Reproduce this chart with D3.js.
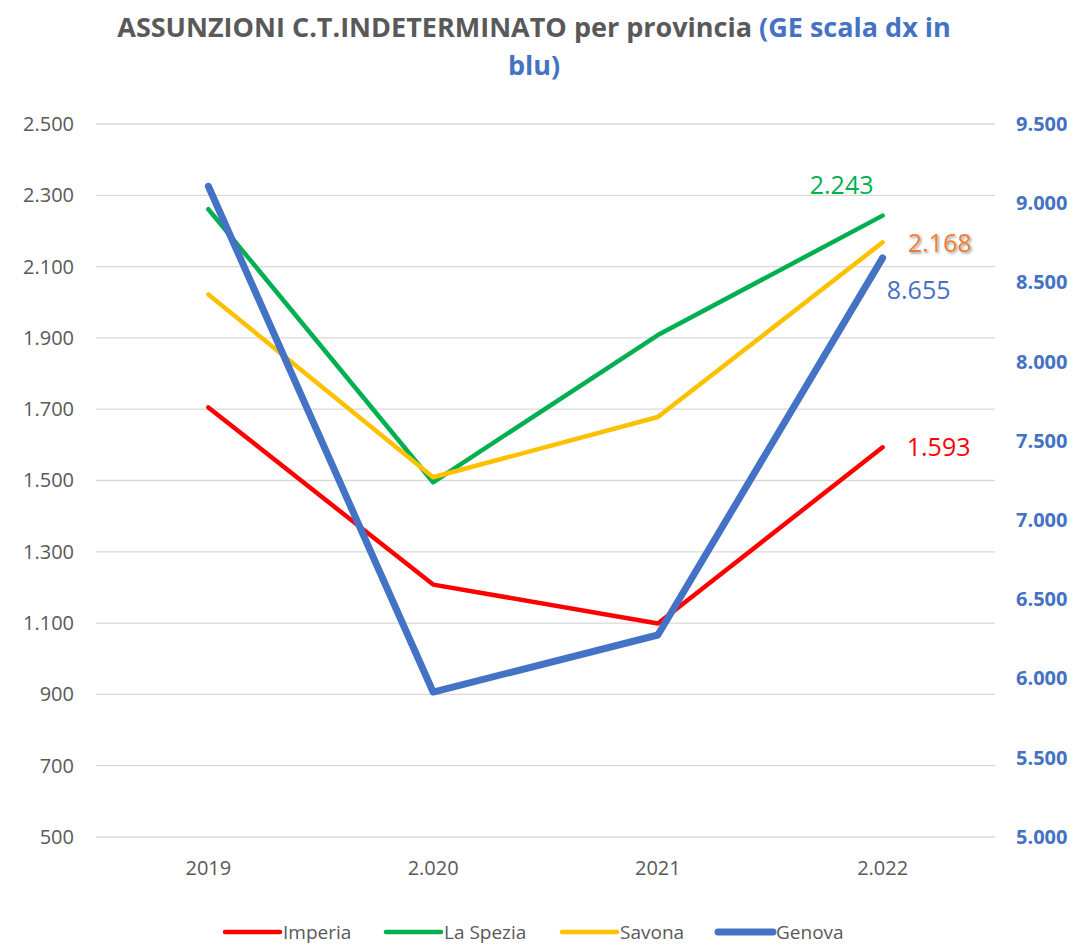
<!DOCTYPE html>
<html lang="it">
<head>
  <meta charset="UTF-8">
  <title>Assunzioni C.T.Indeterminato</title>
  <script src="https://d3js.org/d3.v7.min.js"></script>
  <style>
    body { margin: 0; background: #fff; }
    text { font-family: "Open Sans", sans-serif; }
    .tick-l { font-size: 20px; fill: #595959; }
    .tick-r { font-size: 20px; fill: #4472C4; font-weight: bold; }
    .grid { stroke: #D9D9D9; stroke-width: 1.3; }
  </style>
</head>
<body>
  <svg width="1076" height="945"></svg>

  <script>
    const years = ["2019", "2.020", "2021", "2.022"];
    const imperia = [1705, 1208, 1099, 1593];
    const laSpezia = [2261, 1495, 1908, 2243];
    const savona = [2022, 1509, 1678, 2168];
    const genova = [9107, 5915, 6275, 8655];
    const leftTicks = [500, 700, 900, 1100, 1300, 1500, 1700, 1900, 2100, 2300, 2500];
    const rightTicks = [5000, 5500, 6000, 6500, 7000, 7500, 8000, 8500, 9000, 9500];

    const svg = d3.select("svg");
    const plotL = 96, plotR = 995, plotT = 124, plotB = 837;

    const x = d3.scaleBand().domain(years).range([plotL, plotR]);
    const y = d3.scaleLinear().domain([500, 2500]).range([plotB, plotT]);
    const y2 = d3.scaleLinear().domain([5000, 9500]).range([plotB, plotT]);
    const fmt = v => d3.format(",")(v).replace(/,/g, ".");
    const cx = d => x(d) + x.bandwidth() / 2;

    // title
    const title = svg.append("text").attr("text-anchor", "middle")
      .attr("font-weight", "bold").attr("font-size", 27);
    const l1 = title.append("tspan").attr("x", 534).attr("y", 37);
    l1.append("tspan").attr("fill", "#595959").text("ASSUNZIONI C.T.INDETERMINATO per provincia ");
    l1.append("tspan").attr("fill", "#4472C4").text("(GE scala dx in");
    title.append("tspan").attr("x", 534).attr("y", 75).attr("fill", "#4472C4").text("blu)");

    // gridlines
    svg.append("g").selectAll("line").data(leftTicks).enter().append("line")
      .attr("class", "grid")
      .attr("x1", plotL).attr("x2", plotR)
      .attr("y1", d => y(d)).attr("y2", d => y(d));

    // left axis
    const axL = svg.append("g").attr("transform", `translate(${plotL},0)`)
      .call(d3.axisLeft(y).tickValues(leftTicks).tickFormat(fmt).tickSize(0).tickPadding(22));
    axL.select(".domain").remove();
    axL.selectAll("text").attr("class", "tick-l");

    // right axis
    const axR = svg.append("g").attr("transform", `translate(${plotR},0)`)
      .call(d3.axisRight(y2).tickValues(rightTicks).tickFormat(fmt).tickSize(0).tickPadding(21));
    axR.select(".domain").remove();
    axR.selectAll("text").attr("class", "tick-r");

    // x axis
    const axX = svg.append("g").attr("transform", `translate(0,${plotB})`)
      .call(d3.axisBottom(x).tickSize(0).tickPadding(24));
    axX.select(".domain").remove();
    axX.selectAll("text").attr("class", "tick-l");

    const series = [
      { name: "Imperia", values: imperia, color: "#FF0000", width: 4.5, scale: y },
      { name: "La Spezia", values: laSpezia, color: "#00B050", width: 4.5, scale: y },
      { name: "Savona", values: savona, color: "#FFC000", width: 4.5, scale: y },
      { name: "Genova", values: genova, color: "#4472C4", width: 7, scale: y2 }
    ];

    series.forEach(s => {
      const line = d3.line().x((d, i) => cx(years[i])).y(d => s.scale(d));
      svg.append("path").datum(s.values)
        .attr("fill", "none").attr("stroke", s.color)
        .attr("stroke-width", s.width)
        .attr("stroke-linecap", "round").attr("stroke-linejoin", "round")
        .attr("d", line);
    });

    // data labels on last point
    const defs = svg.append("defs");
    const f = defs.append("filter").attr("id", "shadow");
    f.append("feDropShadow").attr("dx", 1.5).attr("dy", 1.5).attr("stdDeviation", 1)
      .attr("flood-color", "#000").attr("flood-opacity", 0.4);

    const last = years[3];
    const labels = [
      { v: imperia[3], sc: y, dx: 56, dy: 9, color: "#FF0000" },
      { v: laSpezia[3], sc: y, dx: -41, dy: -22, color: "#00B050" },
      { v: savona[3], sc: y, dx: 57, dy: 10, color: "#ED7D31", shadow: true },
      { v: genova[3], sc: y2, dx: 36, dy: 41, color: "#4472C4" }
    ];
    labels.forEach(l => {
      svg.append("text")
        .attr("x", cx(last) + l.dx).attr("y", l.sc(l.v) + l.dy)
        .attr("text-anchor", "middle").attr("font-size", 25)
        .attr("fill", l.color)
        .attr("filter", l.shadow ? "url(#shadow)" : null)
        .text(fmt(l.v));
    });

    // legend
    const legX = [225, 386, 562, 718];
    const lg = svg.append("g").attr("transform", "translate(0,932)");
    series.forEach((s, i) => {
      lg.append("line").attr("x1", legX[i]).attr("x2", legX[i] + 55)
        .attr("y1", 0).attr("y2", 0)
        .attr("stroke", s.color).attr("stroke-width", s.width)
        .attr("stroke-linecap", "round");
      lg.append("text").attr("x", legX[i] + 58).attr("y", 7)
        .attr("font-size", 19).attr("fill", "#595959").text(s.name);
    });
  </script>
</body>
</html>
